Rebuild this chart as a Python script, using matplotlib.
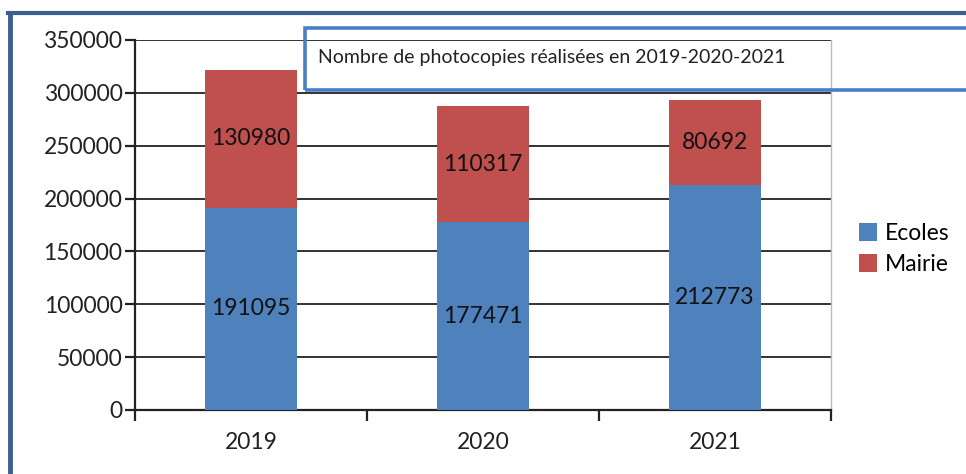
import matplotlib
matplotlib.use("Agg")
import matplotlib.pyplot as plt
from matplotlib.patches import Rectangle
from matplotlib.lines import Line2D
import numpy as np

plt.rcParams['font.family'] = ['Lato', 'DejaVu Sans']

years = ["2019", "2020", "2021"]
ecoles = [191095, 177471, 212773]
mairie = [130980, 110317, 80692]
series_names = ["Ecoles", "Mairie"]
yticks = [0, 50000, 100000, 150000, 200000, 250000, 300000, 350000]
title = "Nombre de photocopies réalisées en 2019-2020-2021"

W, H = 966, 474
fig = plt.figure(figsize=(W / 100, H / 100), dpi=100)
fig.patch.set_facecolor("white")

def fx(px):
    return px / W

def fy(py):
    return 1 - py / H

ax = fig.add_axes([fx(135), fy(410), fx(831) - fx(135), fy(40) - fy(410)])
x = np.arange(len(years))
blue = "#4F81BD"
red = "#C0504D"
bw = 0.40
b1 = ax.bar(x, ecoles, bw, color=blue, label=series_names[0], zorder=3)
b2 = ax.bar(x, mairie, bw, bottom=ecoles, color=red, label=series_names[1], zorder=3)

for i in range(len(years)):
    ax.text(x[i], ecoles[i] / 2, f"{ecoles[i]}", ha="center", va="center",
            fontsize=16.5, color="#111111", zorder=4)
    ax.text(x[i], ecoles[i] + mairie[i] / 2, f"{mairie[i]}", ha="center", va="center",
            fontsize=16.5, color="#111111", zorder=4)

ax.set_xlim(-0.5, len(years) - 0.5)
ax.set_ylim(0, 350000)
ax.set_yticks(yticks)
ax.set_yticklabels([str(v) for v in yticks], fontsize=16.5, color="#222222")
ax.yaxis.grid(True, color="#222222", linewidth=1.3, zorder=1)
ax.set_axisbelow(True)

ax.set_xticks(x)
ax.set_xticklabels(years, fontsize=16.5, color="#222222")
ax.tick_params(axis="x", which="major", length=0, pad=16)
ax.set_xticks(np.arange(-0.5, len(years)), minor=True)
ax.tick_params(axis="x", which="minor", length=8, width=1.6, color="#222222", direction="out")
ax.tick_params(axis="y", length=7, width=1.6, color="#222222", pad=2, direction="out")

ax.spines["top"].set_visible(False)
ax.spines["right"].set_color("#BBBBBB")
ax.spines["right"].set_linewidth(1.0)
ax.spines["left"].set_color("#222222")
ax.spines["left"].set_linewidth(1.6)
ax.spines["bottom"].set_color("#222222")
ax.spines["bottom"].set_linewidth(1.6)

# legend
fig.legend(handles=[b1, b2], labels=series_names, loc="center left",
           bbox_to_anchor=(fx(838), fy(249)), frameon=False, fontsize=16.5,
           handlelength=0.8, handleheight=0.8, handletextpad=0.35, labelspacing=0.45)

# title box
fig.patches.append(Rectangle((fx(305), fy(90)), fx(700), fy(28) - fy(90),
                             transform=fig.transFigure, fill=False,
                             edgecolor="#4A7EC4", linewidth=2.6, zorder=5))
fig.text(fx(318), fy(58), title, ha="left", va="center", fontsize=14, color="#222222")

# outer frame
frame_col = "#3B5F8E"
fig.lines.append(Line2D([fx(10), fx(10)], [fy(13), 0], transform=fig.transFigure,
                        color=frame_col, linewidth=3.5))
fig.lines.append(Line2D([fx(8), 1], [fy(13), fy(13)], transform=fig.transFigure,
                        color=frame_col, linewidth=3.0))

fig.savefig("out.png", dpi=100, facecolor="white")
